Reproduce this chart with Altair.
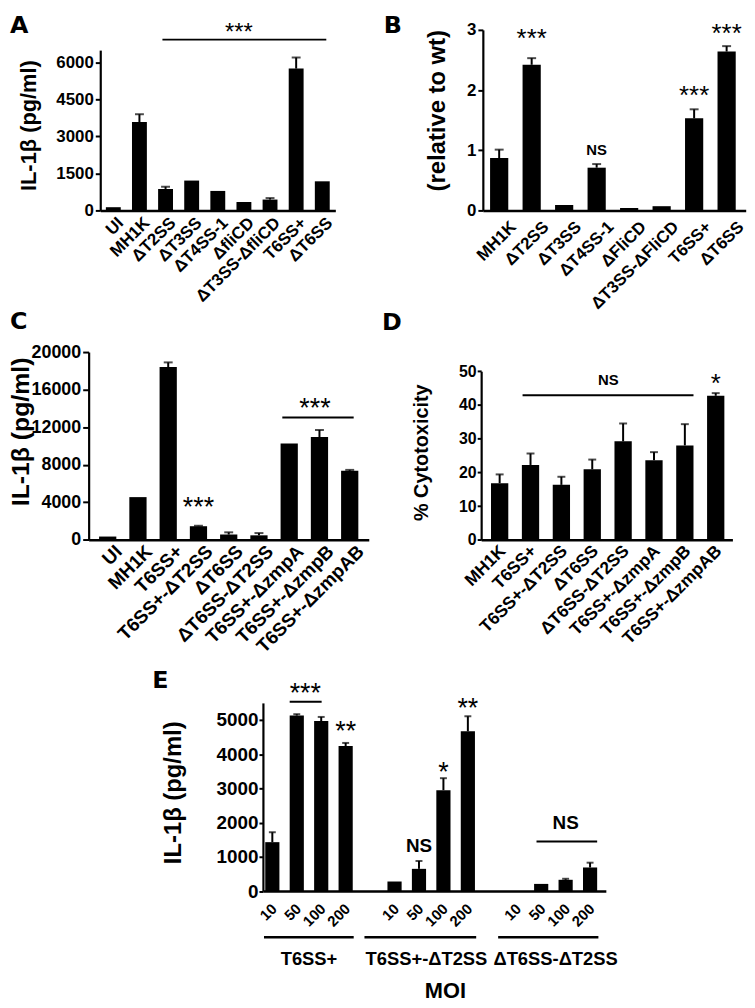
import altair as alt
import pandas as pd

FONT = "Liberation Sans"
LETTER_FONT = "DejaVu Sans"

# ---------------- data ----------------
# Panel A: IL-1beta (pg/ml)
a_strain = ["UI", "MH1K", "ΔT2SS", "ΔT3SS", "ΔT4SS-1", "ΔfliCD", "ΔT3SS-ΔfliCD", "T6SS+", "ΔT6SS"]
a_mean = [130, 3580, 870, 1210, 790, 340, 440, 5750, 1180]
a_upper = [130, 3900, 960, 1210, 790, 340, 500, 6200, 1180]
a_ticks = [0, 1500, 3000, 4500, 6000]

# Panel B: relative to wt
b_strain = ["MH1K", "ΔT2SS", "ΔT3SS", "ΔT4SS-1", "ΔFliCD", "ΔT3SS-ΔFliCD", "T6SS+", "ΔT6SS"]
b_mean = [0.87, 2.42, 0.09, 0.71, 0.04, 0.07, 1.53, 2.64]
b_upper = [1.01, 2.53, 0.09, 0.77, 0.04, 0.07, 1.68, 2.73]
b_ticks = [0, 1, 2, 3]

# Panel C: IL-1beta (pg/ml)
c_strain = ["UI", "MH1K", "T6SS+", "T6SS+-ΔT2SS", "ΔT6SS", "ΔT6SS-ΔT2SS",
            "T6SS+-ΔzmpA", "T6SS+-ΔzmpB", "T6SS+-ΔzmpAB"]
c_mean = [350, 4550, 18400, 1450, 560, 480, 10250, 10950, 7350]
c_upper = [350, 4550, 18900, 1500, 800, 720, 10250, 11700, 7450]
c_ticks = [0, 4000, 8000, 12000, 16000, 20000]

# Panel D: % cytotoxicity
d_strain = ["MH1K", "T6SS+", "T6SS+-ΔT2SS", "ΔT6SS", "ΔT6SS-ΔT2SS",
            "T6SS+-ΔzmpA", "T6SS+-ΔzmpB", "T6SS+-ΔzmpAB"]
d_mean = [16.8, 22.2, 16.3, 20.9, 29.2, 23.6, 28.0, 42.7]
d_upper = [19.4, 25.6, 18.7, 23.8, 34.5, 26.0, 34.3, 43.5]
d_ticks = [0, 10, 20, 30, 40, 50]

# Panel E: IL-1beta vs MOI
e_groups = ["T6SS+", "T6SS+-ΔT2SS", "ΔT6SS-ΔT2SS"]
e_moi = ["10", "50", "100", "200"]
e_mean = [[1430, 5130, 4970, 4240], [280, 650, 2950, 4670], [None, 210, 330, 690]]
e_upper = [[1720, 5170, 5090, 4330], [280, 880, 3300, 5110], [None, 210, 360, 830]]
e_ticks = [0, 1000, 2000, 3000, 4000, 5000]


# ---------------- helpers ----------------
def bar_df(cats, means, uppers):
    rows = [(c, m, u) for c, m, u in zip(cats, means, uppers) if m is not None]
    return pd.DataFrame(rows, columns=["cat", "v", "up"])


class Panel:
    def __init__(self, xs, ys, xaxis, yaxis):
        self.xs, self.ys, self.xaxis, self.yaxis = xs, ys, xaxis, yaxis
        self.layers = []

    def X(self, field, **kw):
        return alt.X(field, scale=self.xs, axis=self.xaxis, sort=None, **kw)

    def Y(self, field):
        return alt.Y(field, scale=self.ys, axis=self.yaxis)

    def bars(self, df, cap):
        self.layers.append(alt.Chart(df).mark_bar(color="black").encode(
            x=self.X("cat:N"), y=self.Y("v:Q")))
        err_df = df[df["up"] > df["v"]]
        self.layers.append(alt.Chart(err_df).mark_rule(color="black", strokeWidth=2).encode(
            x=self.X("cat:N"), y=self.Y("v:Q"), y2="up:Q"))
        self.layers.append(alt.Chart(err_df).mark_tick(color="black", thickness=2, size=cap).encode(
            x=self.X("cat:N"), y=self.Y("up:Q")))

    def text(self, df, size, weight="normal", dx=0, dy=0):
        self.layers.append(alt.Chart(df).mark_text(
            fontSize=size, fontWeight=weight, dx=dx, dy=dy, baseline="alphabetic",
            align="center", color="black", font=FONT
        ).encode(x=self.X("cat:N"), y=self.Y("v:Q"), text="t:N"))

    def line(self, df, bp1, bp2, width=2):
        self.layers.append(alt.Chart(df).mark_rule(color="black", strokeWidth=width).encode(
            x=self.X("s:N", bandPosition=bp1), x2=alt.X2("e:N", bandPosition=bp2),
            y=self.Y("v:Q")))

    def letter(self, letter, x, y, size=24):
        self.layers.append(alt.Chart(pd.DataFrame({"t": [letter]})).mark_text(
            fontSize=size, fontWeight="bold", align="left", baseline="alphabetic",
            color="black", font=LETTER_FONT
        ).encode(x=alt.value(x), y=alt.value(y), text="t:N"))

    def chart(self, w, h):
        return alt.layer(*self.layers).properties(width=w, height=h)


def x_axis(fs, pad, off, expr=None):
    kw = dict(labelAngle=315, labelAlign="right", labelBaseline="top", ticks=False,
              tickSize=0, labelPadding=pad, labelOffset=off, labelFontSize=fs,
              labelOverlap=False, labelLimit=400, domainWidth=2.5, title=None)
    if expr:
        kw["labelExpr"] = expr
    return alt.Axis(**kw)


def y_axis(values, fs, ts, lp, title, tfs, tx, ty, off=0):
    return alt.Axis(values=values, format="d", labelFontSize=fs, tickSize=ts, tickWidth=2,
                    labelPadding=lp, labelOverlap=False, title=title,
                    titleFontSize=tfs, titleX=tx, titleY=ty, titleAlign="center",
                    titleBaseline="alphabetic", offset=off, domainWidth=2.2, grid=False)


# ---------------- panel A ----------------
pA = Panel(alt.Scale(domain=a_strain, range=[0, 237], paddingInner=0.43, paddingOuter=0.215),
           alt.Scale(domain=[0, 6500], range=[182, 20.4], nice=False),
           x_axis(17, 4, 2),
           y_axis(a_ticks, 17, 5, 2, "IL-1β (pg/ml)", 22, -65, 96))
pA.bars(bar_df(a_strain, a_mean, a_upper), 9)
pA.line(pd.DataFrame({"s": ["ΔT2SS"], "e": ["ΔT6SS"], "v": [6925]}), 0.29, 0.77)
pA.text(pd.DataFrame({"cat": ["ΔfliCD"], "v": [7460], "t": ["***"]}), 24, dx=-5, dy=14)
pA.letter("A", -91, 3.3)
pA.layers.append(alt.Chart(pd.DataFrame({"t": [0]})).mark_rule(opacity=0, strokeWidth=1).encode(
    x=alt.value(-93), x2=alt.value(-93), y=alt.value(-17.2), y2=alt.value(-17.2)))
panelA = pA.chart(237, 182)

# ---------------- panel B ----------------
pB = Panel(alt.Scale(domain=b_strain, range=[1.7, 266.7], paddingInner=0.44, paddingOuter=0.265, align=0.42),
           alt.Scale(domain=[0, 3], range=[182, 0], nice=False),
           x_axis(17, 8, 9),
           y_axis(b_ticks, 17, 5, 2, "(relative to wt)", 24, -39, 81, off=-1.7))
pB.bars(bar_df(b_strain, b_mean, b_upper), 9)
pB.text(pd.DataFrame({"cat": ["ΔT2SS", "T6SS+", "ΔT6SS"], "v": [2.97, 2.02, 3.04],
                      "t": ["***", "***", "***"]}), 26, dy=15)
pB.text(pd.DataFrame({"cat": ["ΔT4SS-1"], "v": [1.01], "t": ["NS"]}), 15, weight="bold", dy=5.4)
pB.letter("B", -98.3, 3.3)
panelB = pB.chart(253, 182)

# ---------------- panel C ----------------
pC = Panel(alt.Scale(domain=c_strain, range=[-11.7, 270.7], paddingInner=0.43, paddingOuter=0.345, align=0.5),
           alt.Scale(domain=[0, 20000], range=[189.3, 0], nice=False),
           x_axis(19, 2, 5),
           y_axis(c_ticks, 18, 6, 2, "IL-1β (pg/ml)", 25, -61, 80, off=11.7))
pC.bars(bar_df(c_strain, c_mean, c_upper), 9)
pC.line(pd.DataFrame({"s": ["T6SS+-ΔzmpA"], "e": ["T6SS+-ΔzmpAB"], "v": [13020]}), 0.1, 0.73)
pC.text(pd.DataFrame({"cat": ["T6SS+-ΔT2SS"], "v": [4150], "t": ["***"]}), 27, dy=15.7)
pC.text(pd.DataFrame({"cat": ["T6SS+-ΔzmpB"], "v": [14700], "t": ["***"]}), 27, dx=-4.5, dy=15.7)
pC.letter("C", -91, -23)
panelC = pC.chart(237, 189.3)

# ---------------- panel D ----------------
pD = Panel(alt.Scale(domain=d_strain, range=[0, 253.3], paddingInner=0.44, paddingOuter=0.29, align=0.55),
           alt.Scale(domain=[0, 50], range=[189.3, 19.3], nice=False),
           x_axis(17.5, 2, -3),
           y_axis(d_ticks, 16, 4, 1, "% Cytotoxicity", 20, -54, 101))
pD.bars(bar_df(d_strain, d_mean, d_upper), 8)
pD.line(pd.DataFrame({"s": ["T6SS+"], "e": ["T6SS+-ΔzmpB"], "v": [42.9]}), 0.04, 1.0)
pD.text(pd.DataFrame({"cat": ["ΔT6SS-ΔT2SS"], "v": [47.4], "t": ["NS"]}), 15, weight="bold", dx=-15, dy=5.4)
pD.text(pd.DataFrame({"cat": ["T6SS+-ΔzmpAB"], "v": [48.3], "t": ["*"]}), 26, dy=15)
pD.letter("D", -100, -22)
panelD = pD.chart(253, 189.3)

# ---------------- panel E ----------------
def ek(g, m):
    return f"{g}|{m}"

e_domain = ([ek(e_groups[0], m) for m in e_moi] + ["gap1"] +
            [ek(e_groups[1], m) for m in e_moi] + ["gap2"] +
            [ek(e_groups[2], m) for m in e_moi])
e_cats, e_vals, e_ups = [], [], []
for gi, g in enumerate(e_groups):
    for mi, m in enumerate(e_moi):
        e_cats.append(ek(g, m))
        e_vals.append(e_mean[gi][mi])
        e_ups.append(e_upper[gi][mi])

label_expr = "indexof(datum.value, '|') >= 0 ? split(datum.value, '|')[1] : ''"
pE = Panel(alt.Scale(domain=e_domain, range=[164, 509.7], paddingInner=0.42, paddingOuter=0.225, align=0.21),
           alt.Scale(domain=[0, 5500], range=[210.6, 20.9], nice=False),
           x_axis(15, 10, -3, label_expr),
           y_axis(e_ticks, 19, 4, 1, "IL-1β (pg/ml)", 24, -83, 111, off=-164))
pE.bars(bar_df(e_cats, e_vals, e_ups), 7)
pE.line(pd.DataFrame({"s": [ek(e_groups[0], "50")], "e": [ek(e_groups[0], "100")], "v": [5535]}), 0.0, 0.53)
pE.line(pd.DataFrame({"s": [ek(e_groups[2], "50")], "e": [ek(e_groups[2], "200")], "v": [1449]}), 0.17, 1.0)
pE.text(pd.DataFrame({"cat": [ek(e_groups[0], "50")], "v": [5990], "t": ["***"]}), 27, dx=8.6, dy=15.7)
pE.text(pd.DataFrame({"cat": [ek(e_groups[0], "200"), ek(e_groups[1], "100"), ek(e_groups[1], "200")],
                      "v": [4860, 3680, 5535], "t": ["**", "*", "**"]}), 27, dy=15.7)
pE.text(pd.DataFrame({"cat": [ek(e_groups[1], "50"), ek(e_groups[2], "100")],
                      "v": [1333, 2009], "t": ["NS", "NS"]}), 19, weight="bold", dy=6.8)
# group underlines and group names below the MOI labels
grp_lines = [(ek(e_groups[0], "10"), 0.0, ek(e_groups[0], "200"), 0.98),
             ("gap1", 0.19, ek(e_groups[1], "200"), 1.0),
             ("gap2", 1.0, ek(e_groups[2], "200"), 1.0)]
for s, b1, e, b2 in grp_lines:
    pE.layers.append(alt.Chart(pd.DataFrame({"s": [s], "e": [e]})).mark_rule(
        color="black", strokeWidth=2.5, strokeCap="square").encode(
        x=pE.X("s:N", bandPosition=b1), x2=alt.X2("e:N", bandPosition=b2), y=alt.value(257.2)))
grp_dx = [12.3, 7.5, 14.5]
for g, gdx in zip(e_groups, grp_dx):
    pE.layers.append(alt.Chart(pd.DataFrame({"cat": [ek(g, "50")], "t": [g]})).mark_text(
        fontSize=18.5, fontWeight="bold", dx=gdx, baseline="alphabetic", align="center",
        color="black", font=FONT).encode(x=pE.X("cat:N"), y=alt.value(284.7), text="t:N"))
pE.layers.append(alt.Chart(pd.DataFrame({"cat": [ek(e_groups[1], "100")], "t": ["MOI"]})).mark_text(
    fontSize=22, fontWeight="bold", dx=2, baseline="alphabetic", align="center",
    color="black", font=FONT).encode(x=pE.X("cat:N"), y=alt.value(318.8), text="t:N"))
pE.letter("E", 52.3, 6.2)
panelE = pE.chart(237, 210.6)

# ---------------- assemble ----------------
chart = alt.concat(
    panelA, panelB, panelC, panelD, panelE,
    columns=2, spacing=alt.RowColnumber(row=142.8, column=147), bounds="flush"
).properties(padding=0).configure(font=FONT).configure_view(stroke=None).configure_axis(
    domainColor="black", tickColor="black", labelColor="black", titleColor="black",
    labelFont=FONT, titleFont=FONT, labelFontWeight="bold", titleFontWeight="bold", grid=False)

chart.save("out.html", embed_options={"renderer": "svg", "actions": False})
